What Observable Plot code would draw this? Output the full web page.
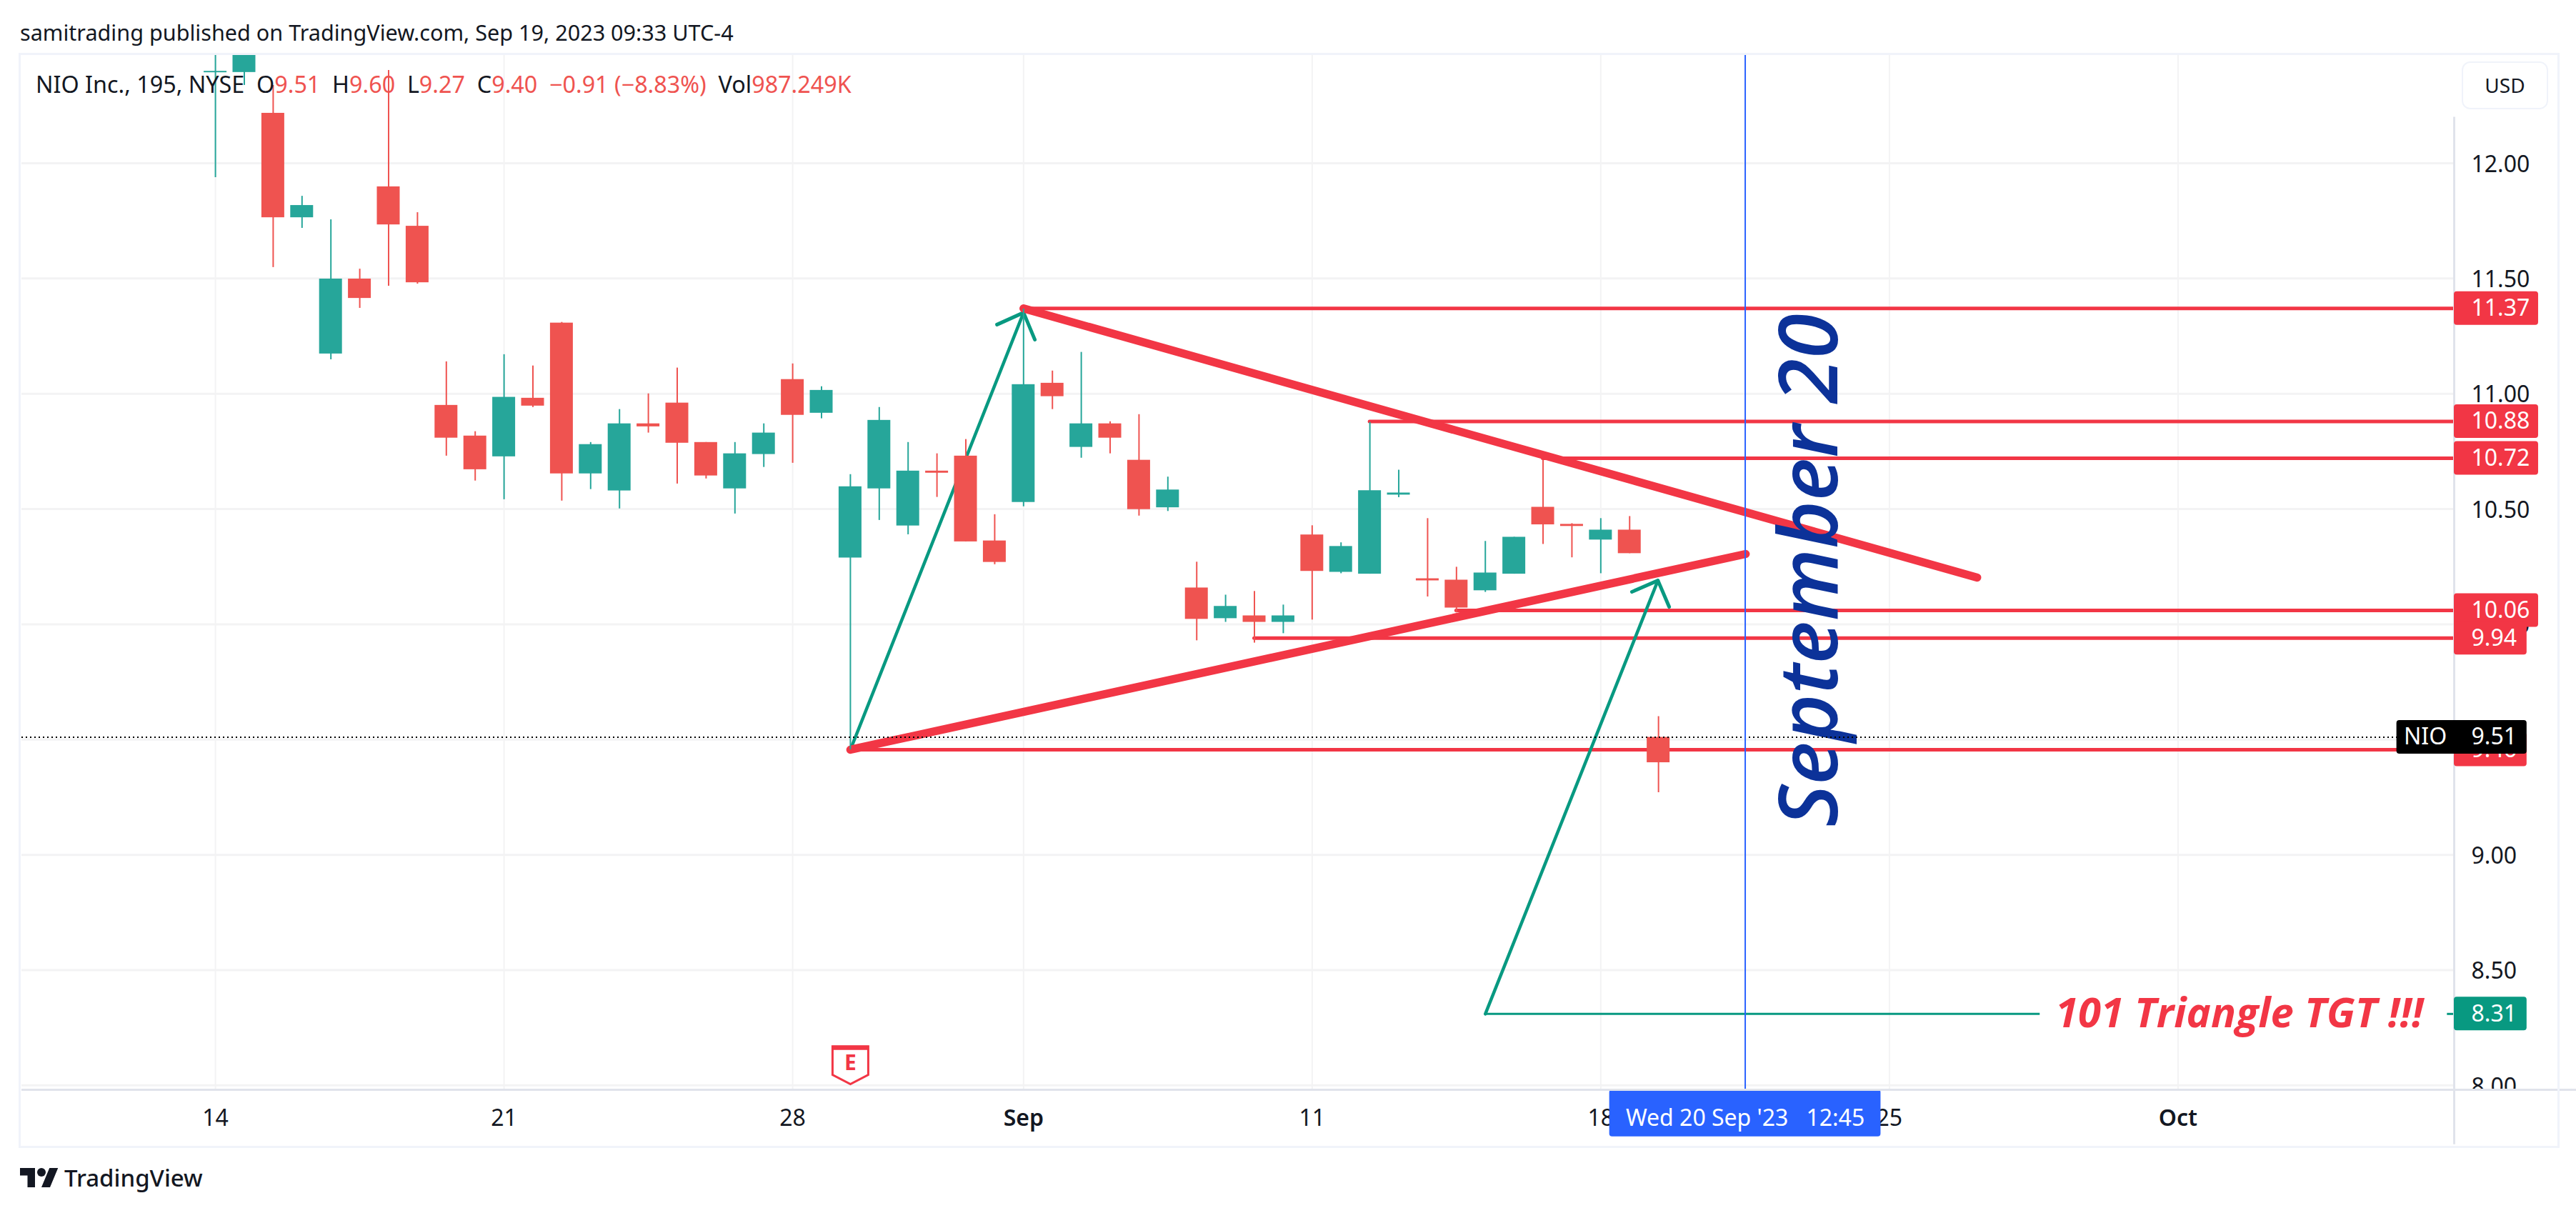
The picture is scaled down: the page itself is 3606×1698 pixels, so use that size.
<!DOCTYPE html>
<html>
<head>
<meta charset="utf-8">
<script src="https://cdn.jsdelivr.net/npm/d3@7"></script>
<script src="https://cdn.jsdelivr.net/npm/@observablehq/plot@0.6"></script>
<style>
html,body{margin:0;padding:0;background:#fff;overflow:hidden}
#page{position:relative;width:3606px;height:1698px;font-family:"Noto Sans",sans-serif;color:#131722}
#head{height:75px}
#chart svg{display:block}
.abs{position:absolute;white-space:pre}
#published{left:28px;top:24px;font-size:30.6px;line-height:42px}
#legend{left:50px;top:95px;font-size:32.3px;line-height:44px}
#legend b{font-weight:400;color:#ef5350}
#frame{position:absolute;left:26px;top:74px;width:3551px;height:1527px;border:3px solid #f0f3fa;pointer-events:none}
#usd{left:3446px;top:86px;width:117px;height:63px;border:2px solid #f0f3fa;border-radius:12px;text-align:center;font-size:28px;line-height:63px}
#logo{left:28px;top:1629px;width:54px;height:42px}
#brand{left:90px;top:1626px;font-size:33px;line-height:46px;font-weight:500}
[aria-label="target note"],[aria-label="target note"] text{letter-spacing:1.3px}
</style>
</head>
<body>
<div id="page">
  <div id="head"></div>
  <div id="chart"></div>
  <div id="frame"></div>
  <div class="abs" id="published">samitrading published on TradingView.com, Sep 19, 2023 09:33 UTC-4</div>
  <div class="abs" id="legend">NIO Inc., 195, NYSE  O<b>9.51</b>  H<b>9.60</b>  L<b>9.27</b>  C<b>9.40</b>  <b>−0.91 (−8.83%)</b>  Vol<b>987.249K</b></div>
  <div class="abs" id="usd">USD</div>
  <svg class="abs" id="logo" viewBox="0 0 36 28"><path fill="#131722" d="M14 22H7V11H0V4h14v18zM28 22h-8l7.5-18h8L28 22z"/><circle fill="#131722" cx="20" cy="8" r="4"/></svg>
  <div class="abs" id="brand">TradingView</div>
</div>
<script>
// Candles, one 195-minute bar each, bar number = array position
const opens  = [12.393,12.394,12.217,11.764,11.173,11.498,11.898,11.727,10.950,10.817,10.727,10.981,11.307,10.653,10.579,10.870,10.960,10.789,10.588,10.737,11.062,10.916,10.288,10.588,10.427,10.665,10.730,10.362,10.529,11.046,10.768,10.870,10.712,10.506,10.158,10.025,10.037,10.009,10.388,10.226,10.218,10.561,10.198,10.192,10.146,10.218,10.508,10.434,10.366,10.409,9.51];
const closes = [12.399,12.600,11.764,11.817,11.498,11.414,11.733,11.482,10.808,10.671,10.985,10.947,10.653,10.780,10.870,10.857,10.786,10.644,10.740,10.830,10.907,11.015,10.597,10.885,10.665,10.656,10.358,10.269,11.040,10.988,10.870,10.808,10.498,10.583,10.022,10.078,10.009,10.037,10.230,10.338,10.580,10.570,10.189,10.071,10.223,10.378,10.432,10.425,10.409,10.307,9.40];
const highs  = [12.470,12.700,12.338,11.857,11.755,11.541,12.403,11.786,11.139,10.836,11.170,11.121,11.310,10.789,10.932,11.000,11.112,10.789,10.789,10.870,11.130,11.031,10.650,10.941,10.789,10.740,10.802,10.476,11.368,11.099,11.180,10.879,10.910,10.639,10.270,10.127,10.143,10.084,10.428,10.354,10.876,10.669,10.459,10.248,10.360,10.378,10.712,10.437,10.459,10.468,9.60];
const lows   = [11.938,12.338,11.548,11.718,11.148,11.371,11.467,11.476,10.730,10.622,10.541,10.941,10.535,10.585,10.501,10.830,10.609,10.631,10.479,10.681,10.699,10.892,9.456,10.451,10.389,10.551,10.358,10.259,10.510,10.932,10.721,10.740,10.470,10.490,9.929,10.009,9.919,9.960,10.019,10.220,10.218,10.550,10.119,10.050,10.139,10.218,10.347,10.289,10.220,10.307,9.27];

// Axes
const priceTicks = [8,8.5,9,9.5,10,10.5,11,11.5,12];
const dayTickBars = [0,10,20,38,48,58];
const dayTickLabels = ["14","21","28","11","18","25"];
const monthTickBars = [28,68];
const monthTickLabels = ["Sep","Oct"];

// Drawn levels: price, bar where the line starts
const redLevels = [11.37,10.88,10.72,10.06,9.94,9.456];
const redLevelStarts = [28,40,46,43,36,22];
const redLabels = ["11.37","10.88","10.72","10.06","9.94","9.46"];
const lastPrice = 9.51;
const targetPrice = 8.31;

// Drawn trend lines and arrows: bar, price
const upperBars = [28,61.04], upperPrices = [11.37,10.203];
const lowerBars = [22,53.02], lowerPrices = [9.456,10.305];
const arrow1Bars = [22,28], arrow1Prices = [9.456,11.352];
const head1Bars = [27.08,28,28.39], head1Prices = [11.30,11.352,11.235];
const arrow2Bars = [44,49.98], arrow2Prices = [8.31,10.19];
const head2Bars = [49.08,49.98,50.37], head2Prices = [10.141,10.19,10.076];
const crossBar = 53.005;
const earningsBar = 22;

const barDomain = [-6.71,77.57];
const priceDomain = [7.981,12.471];
const RED="#f23645", GREEN="#089981", UP="#26a69a", DOWN="#ef5350", INK="#131722", GRID="#f3f3f4", AXIS="#e0e3eb";
const labelEnd = 80.49, shortLabelEnd = 80.09, halfLabel = 0.0728;

const bars = opens.map((o,i)=>({i,o,c:closes[i],h:highs[i],l:lows[i],col:closes[i]>=o?UP:DOWN}));
const pts = (xs,ys)=>xs.map((x,k)=>({x,y:ys[k]}));
const levels = redLevels.map((p,k)=>({p,start:redLevelStarts[k],label:redLabels[k],end:k>=4?shortLabelEnd:labelEnd}));
const drawn = (xs,ys,stroke,strokeWidth)=>Plot.line(pts(xs,ys),{x:"x",y:"y",stroke,strokeWidth,strokeLinecap:"round",strokeLinejoin:"round"});
const priceFmt = d3.format(".2f");
const axisFont = {fontSize:32,fontFamily:"Noto Sans"};

const pentagon = {draw(c){c.moveTo(-25,-26);c.lineTo(25,-26);c.lineTo(25,14);c.lineTo(0,27);c.lineTo(-25,14);c.closePath();}};
const topBar = {draw(c){c.moveTo(-25,-27);c.lineTo(25,-27);c.lineTo(25,-21);c.lineTo(-25,-21);c.closePath();}};

const plot = Plot.plot({
  width:3606,height:1527,
  marginLeft:30,marginRight:171,marginTop:1,marginBottom:77,
  style:{background:"#fff",fontFamily:"Noto Sans"},
  x:{type:"linear",domain:barDomain},
  y:{type:"linear",domain:priceDomain},
  marks:[
    Plot.gridX([...dayTickBars,...monthTickBars],{stroke:GRID,strokeOpacity:1,strokeWidth:2}),
    Plot.gridY(priceTicks,{stroke:GRID,strokeOpacity:1,strokeWidth:3}),
    Plot.axisY({anchor:"right",ticks:priceTicks,tickFormat:priceFmt,tickSize:0,tickPadding:24,dy:2,label:null,fill:INK,...axisFont}),
    Plot.axisX({ticks:dayTickBars,tickFormat:d=>dayTickLabels[dayTickBars.indexOf(d)],tickSize:0,tickPadding:28,label:null,fill:INK,...axisFont}),
    Plot.axisX({ticks:monthTickBars,tickFormat:d=>monthTickLabels[monthTickBars.indexOf(d)],tickSize:0,tickPadding:28,label:null,fill:INK,fontWeight:600,...axisFont}),
    // drawings behind the candles
    Plot.ruleY(levels,{y:"p",x1:"start",x2:barDomain[1],stroke:RED,strokeWidth:5,strokeLinecap:"round"}),
    drawn(arrow1Bars,arrow1Prices,GREEN,4.5),
    drawn(head1Bars,head1Prices,GREEN,5),
    drawn(arrow2Bars,arrow2Prices,GREEN,4.5),
    drawn(head2Bars,head2Prices,GREEN,5),
    Plot.ruleY([targetPrice],{x1:arrow2Bars[0],x2:63.22,stroke:GREEN,strokeWidth:3}),
    Plot.ruleY([targetPrice],{x1:77.33,x2:barDomain[1],stroke:GREEN,strokeWidth:3}),
    drawn(upperBars,upperPrices,RED,11.5),
    drawn(lowerBars,lowerPrices,RED,11.5),
    // candles
    Plot.ruleX(bars,{x:"i",y1:"l",y2:"h",stroke:"col",strokeWidth:2,clip:true}),
    Plot.rect(bars,{x1:d=>d.i-0.396,x2:d=>d.i+0.396,y1:"o",y2:"c",fill:"col",clip:true}),
    // texts
    Plot.text(["September 20"],{x:56.19,y:10.234,rotate:-90,fontSize:114,fontStyle:"italic",fontWeight:600,fontFamily:"Open Sans",fill:"#0c3299",textAnchor:"middle",lineAnchor:"bottom"}),
    Plot.text(["101 Triangle TGT !!!"],{x:63.75,y:targetPrice,fontSize:58,fontStyle:"italic",fontWeight:700,fontFamily:"Open Sans",fill:RED,textAnchor:"start",lineAnchor:"middle",ariaLabel:"target note"}),
    // earnings flag
    Plot.dot([earningsBar],{x:d=>d,y:8.089,symbol:pentagon,fill:"#fff",stroke:RED,strokeWidth:3}),
    Plot.dot([earningsBar],{x:d=>d,y:8.089,symbol:topBar,fill:RED}),
    Plot.text(["E"],{x:earningsBar,y:8.095,fontSize:30,fontWeight:700,fill:RED,lineAnchor:"middle"}),
    // last price line
    Plot.ruleY([lastPrice],{x1:barDomain[0],x2:barDomain[1],stroke:"#000",strokeWidth:2,strokeDasharray:"2,4"}),
    // crosshair
    Plot.ruleX([crossBar],{stroke:"#2962ff",strokeWidth:2}),
    Plot.rect([crossBar],{x1:d=>d-4.7,x2:d=>d+4.7,y1:priceDomain[0],y2:priceDomain[0]-0.204,fill:"#2962ff",rx:4}),
    Plot.text(["Wed 20 Sep '23   12:45"],{x:crossBar,y:priceDomain[0]-0.125,fill:"#fff",lineAnchor:"middle",...axisFont}),
    // axis borders and overlay hiding what falls below the pane on the price axis
    Plot.rect([0],{x1:barDomain[1],x2:85,y1:priceDomain[0],y2:priceDomain[0]-0.1,fill:"#fff"}),
    Plot.ruleX([barDomain[1]],{y1:priceDomain[0]-0.238,y2:12.2,stroke:AXIS,strokeWidth:3}),
    Plot.ruleY([priceDomain[0]],{x1:barDomain[0],x2:85,stroke:AXIS,strokeWidth:3}),
    // price labels
    Plot.rect(levels,{x1:barDomain[1],x2:"end",y1:d=>d.p-halfLabel,y2:d=>d.p+halfLabel,fill:RED,rx:4}),
    Plot.text(levels,{x:barDomain[1],y:"p",text:"label",dx:24,fill:"#fff",textAnchor:"start",lineAnchor:"middle",...axisFont}),
    Plot.rect([targetPrice],{x1:barDomain[1],x2:shortLabelEnd,y1:d=>d-halfLabel,y2:d=>d+halfLabel,fill:GREEN,rx:4}),
    Plot.text([targetPrice],{x:barDomain[1],y:d=>d,text:priceFmt,dx:24,fill:"#fff",textAnchor:"start",lineAnchor:"middle",...axisFont}),
    Plot.rect([lastPrice],{x1:75.58,x2:shortLabelEnd,y1:d=>d-halfLabel,y2:d=>d+halfLabel,fill:"#000",rx:4}),
    Plot.text(["NIO"],{x:75.58,y:lastPrice,dx:40,fill:"#fff",lineAnchor:"middle",...axisFont}),
    Plot.text([lastPrice],{x:barDomain[1],y:d=>d,text:priceFmt,dx:24,fill:"#fff",textAnchor:"start",lineAnchor:"middle",...axisFont})
  ]
});
document.getElementById("chart").appendChild(plot);
</script>
</body>
</html>
